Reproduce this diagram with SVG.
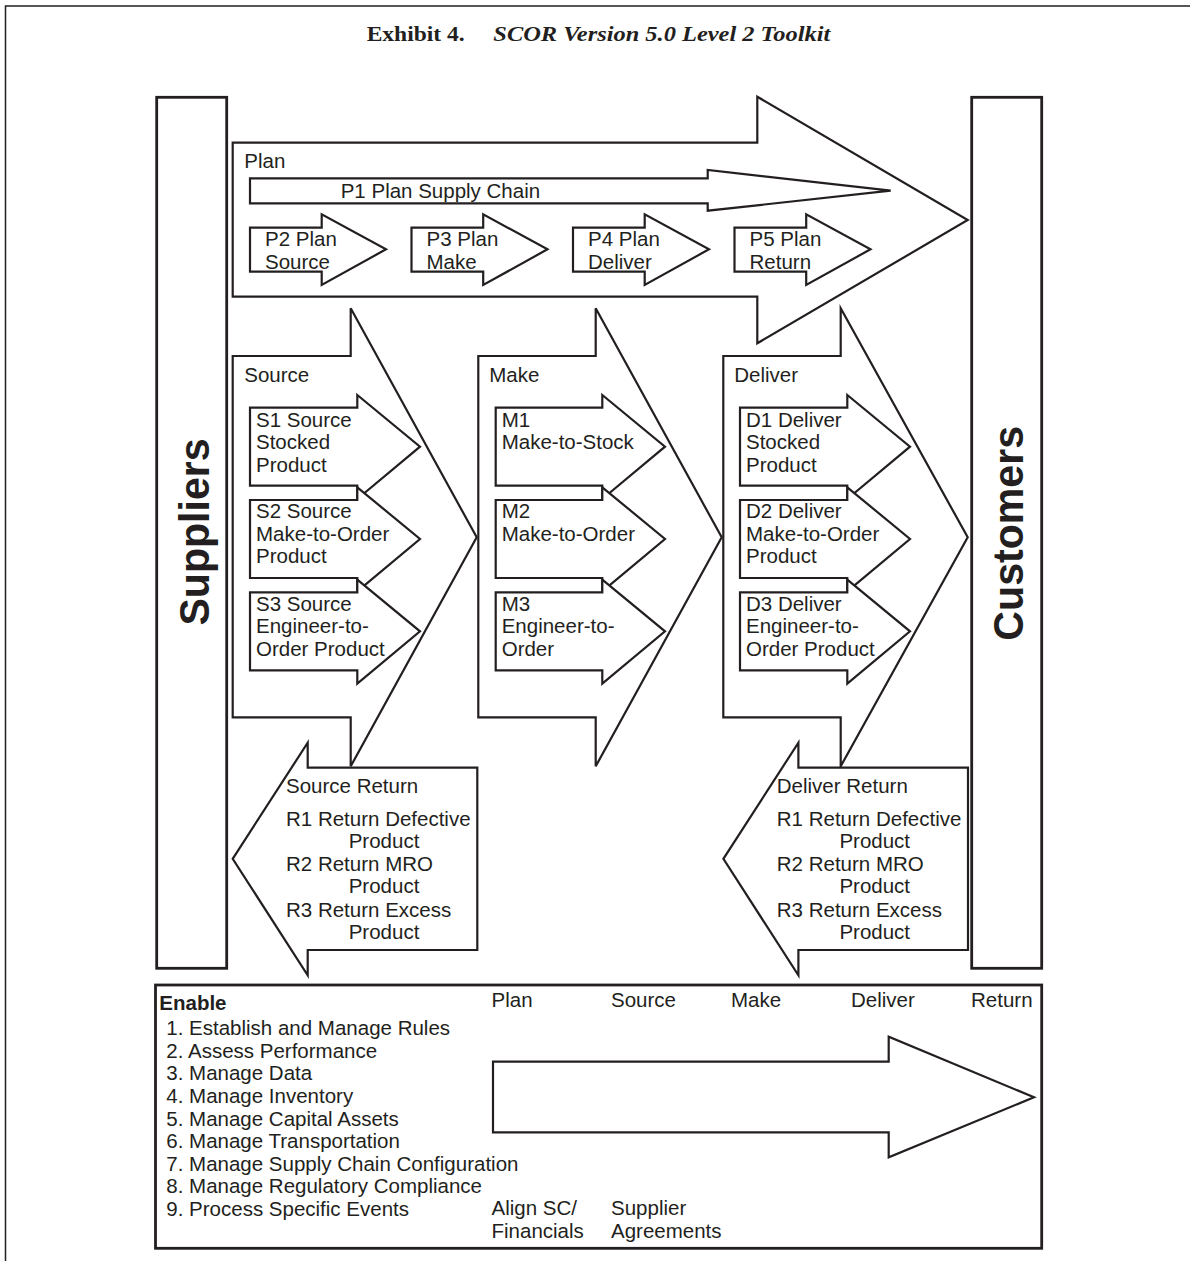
<svg xmlns="http://www.w3.org/2000/svg" width="1190" height="1261" viewBox="0 0 1190 1261">
<style>
  .t { font-family: "Liberation Sans", Arial, Helvetica, sans-serif; font-size: 20.5px; fill: #231f20; }
  .big { font-family: "Liberation Sans", Arial, Helvetica, sans-serif; font-size: 43px; font-weight: bold; fill: #231f20; }
  .title { font-family: "Liberation Serif", "Times New Roman", serif; font-size: 22px; font-weight: bold; fill: #231f20; }
  .ar { fill: #ffffff; stroke: #231f20; stroke-width: 2.2; stroke-linejoin: miter; }
  .box { fill: #ffffff; stroke: #231f20; stroke-width: 2.8; }
  .frame { fill: none; stroke: #231f20; stroke-width: 1.5; }
</style>
<rect width="1190" height="1261" fill="#ffffff"/>
<g id="frame">
  <polyline class="frame" points="5.5,1261 5.5,6 1190,6"/>
</g>
<g id="title">
  <text class="title" x="366.7" y="40.7" textLength="98" lengthAdjust="spacingAndGlyphs">Exhibit 4.</text>
  <text class="title" x="493.3" y="40.7" font-style="italic" textLength="337" lengthAdjust="spacingAndGlyphs">SCOR Version 5.0 Level 2 Toolkit</text>
</g>
<g id="suppliers">
  <rect class="box" x="156.7" y="97.3" width="70" height="871"/>
  <text class="big" transform="translate(208.5,532) rotate(-90)" text-anchor="middle" textLength="187" lengthAdjust="spacingAndGlyphs">Suppliers</text>
</g>
<g id="customers">
  <rect class="box" x="971.7" y="97.3" width="70" height="871"/>
  <text class="big" transform="translate(1023.3,533.3) rotate(-90)" text-anchor="middle" textLength="214.7" lengthAdjust="spacingAndGlyphs">Customers</text>
</g>
<g id="plan">
  <polygon class="ar" points="232.7,142.7 757.3,142.7 757.3,96.7 967.7,220 757.3,343.3 757.3,296.7 232.7,296.7"/>
  <text class="t" x="244.3" y="167.7">Plan</text>
</g>
<g id="p1">
  <polygon class="ar" points="250,178.3 707.7,178.3 707.7,170 890.7,190.7 707.7,210.7 707.7,203.3 250,203.3"/>
  <text class="t" x="340.7" y="198.3">P1 Plan Supply Chain</text>
</g>
<g id="p2">
  <polygon class="ar" points="250,227.7 321.7,227.7 321.7,214.3 386,249.3 321.7,285 321.7,271.7 250,271.7"/>
  <text class="t" x="265" y="246">P2 Plan</text>
  <text class="t" x="265" y="268.7">Source</text>
</g>
<g id="p3">
  <polygon class="ar" points="411.5,227.7 483.2,227.7 483.2,214.3 547.5,249.3 483.2,285 483.2,271.7 411.5,271.7"/>
  <text class="t" x="426.5" y="246">P3 Plan</text>
  <text class="t" x="426.5" y="268.7">Make</text>
</g>
<g id="p4">
  <polygon class="ar" points="573,227.7 644.7,227.7 644.7,214.3 709,249.3 644.7,285 644.7,271.7 573,271.7"/>
  <text class="t" x="588" y="246">P4 Plan</text>
  <text class="t" x="588" y="268.7">Deliver</text>
</g>
<g id="p5">
  <polygon class="ar" points="734.5,227.7 806.2,227.7 806.2,214.3 870.5,249.3 806.2,285 806.2,271.7 734.5,271.7"/>
  <text class="t" x="749.5" y="246">P5 Plan</text>
  <text class="t" x="749.5" y="268.7">Return</text>
</g>
<g id="source">
  <polygon class="ar" points="232.7,356 350.7,356 350.7,308.3 476.7,537.3 350.7,766.3 350.7,717.3 232.7,717.3"/>
  <text class="t" x="244.3" y="381.7">Source</text>
</g>
<g id="s1">
  <polygon class="ar" points="250,407.7 357.3,407.7 357.3,395 420,446.7 357.3,499 357.3,485.7 250,485.7"/>
  <text class="t" x="256" y="426.7">S1 Source</text>
  <text class="t" x="256" y="449">Stocked</text>
  <text class="t" x="256" y="471.7">Product</text>
</g>
<g id="s2">
  <polygon class="ar" points="250,500 357.3,500 357.3,487.3 420,539 357.3,591.3 357.3,578 250,578"/>
  <text class="t" x="256" y="518.3">S2 Source</text>
  <text class="t" x="256" y="540.7">Make-to-Order</text>
  <text class="t" x="256" y="563.3">Product</text>
</g>
<g id="s3">
  <polygon class="ar" points="250,592.3 357.3,592.3 357.3,579.6 420,631.3 357.3,683.6 357.3,670.3 250,670.3"/>
  <text class="t" x="256" y="610.7">S3 Source</text>
  <text class="t" x="256" y="633">Engineer-to-</text>
  <text class="t" x="256" y="655.7">Order Product</text>
</g>
<g id="make">
  <polygon class="ar" points="478.3,356 595.7,356 595.7,308.3 721.7,537.3 595.7,766.3 595.7,717.3 478.3,717.3"/>
  <text class="t" x="489.3" y="381.7">Make</text>
</g>
<g id="m1">
  <polygon class="ar" points="495.7,407.7 602.3,407.7 602.3,395 665,446.7 602.3,499 602.3,485.7 495.7,485.7"/>
  <text class="t" x="501.7" y="426.7">M1</text>
  <text class="t" x="501.7" y="449">Make-to-Stock</text>
</g>
<g id="m2">
  <polygon class="ar" points="495.7,500 602.3,500 602.3,487.3 665,539 602.3,591.3 602.3,578 495.7,578"/>
  <text class="t" x="501.7" y="518.3">M2</text>
  <text class="t" x="501.7" y="540.7">Make-to-Order</text>
</g>
<g id="m3">
  <polygon class="ar" points="495.7,592.3 602.3,592.3 602.3,579.6 665,631.3 602.3,683.6 602.3,670.3 495.7,670.3"/>
  <text class="t" x="501.7" y="610.7">M3</text>
  <text class="t" x="501.7" y="633">Engineer-to-</text>
  <text class="t" x="501.7" y="655.7">Order</text>
</g>
<g id="deliver">
  <polygon class="ar" points="723.3,356 840.7,356 840.7,308.3 967.7,537.3 840.7,766.3 840.7,717.3 723.3,717.3"/>
  <text class="t" x="734.3" y="381.7">Deliver</text>
</g>
<g id="d1">
  <polygon class="ar" points="740,407.7 847.3,407.7 847.3,395 910,446.7 847.3,499 847.3,485.7 740,485.7"/>
  <text class="t" x="746" y="426.7">D1 Deliver</text>
  <text class="t" x="746" y="449">Stocked</text>
  <text class="t" x="746" y="471.7">Product</text>
</g>
<g id="d2">
  <polygon class="ar" points="740,500 847.3,500 847.3,487.3 910,539 847.3,591.3 847.3,578 740,578"/>
  <text class="t" x="746" y="518.3">D2 Deliver</text>
  <text class="t" x="746" y="540.7">Make-to-Order</text>
  <text class="t" x="746" y="563.3">Product</text>
</g>
<g id="d3">
  <polygon class="ar" points="740,592.3 847.3,592.3 847.3,579.6 910,631.3 847.3,683.6 847.3,670.3 740,670.3"/>
  <text class="t" x="746" y="610.7">D3 Deliver</text>
  <text class="t" x="746" y="633">Engineer-to-</text>
  <text class="t" x="746" y="655.7">Order Product</text>
</g>
<g id="source-return">
  <polygon class="ar" points="477.3,767.7 307.7,767.7 307.7,742.7 232.7,858.8 307.7,975.3 307.7,950 477.3,950"/>
  <text class="t" x="286" y="792.7">Source Return</text>
  <text class="t" x="286" y="826">R1 Return Defective</text>
  <text class="t" x="348.7" y="848.3">Product</text>
  <text class="t" x="286" y="871">R2 Return MRO</text>
  <text class="t" x="348.7" y="893.3">Product</text>
  <text class="t" x="286" y="916.7">R3 Return Excess</text>
  <text class="t" x="348.7" y="939">Product</text>
</g>
<g id="deliver-return">
  <polygon class="ar" points="968,767.7 798.4,767.7 798.4,742.7 723.4,858.8 798.4,975.3 798.4,950 968,950"/>
  <text class="t" x="776.8" y="792.7">Deliver Return</text>
  <text class="t" x="776.8" y="826">R1 Return Defective</text>
  <text class="t" x="839.4" y="848.3">Product</text>
  <text class="t" x="776.8" y="871">R2 Return MRO</text>
  <text class="t" x="839.4" y="893.3">Product</text>
  <text class="t" x="776.8" y="916.7">R3 Return Excess</text>
  <text class="t" x="839.4" y="939">Product</text>
</g>
<g id="enable">
  <rect class="box" x="155.5" y="985" width="886.2" height="263.3"/>
  <text class="t" x="159.3" y="1010" font-weight="bold" font-size="23px">Enable</text>
  <text class="t" x="166.3" y="1035">1. Establish and Manage Rules</text>
  <text class="t" x="166.3" y="1057.7">2. Assess Performance</text>
  <text class="t" x="166.3" y="1080.3">3. Manage Data</text>
  <text class="t" x="166.3" y="1103.3">4. Manage Inventory</text>
  <text class="t" x="166.3" y="1125.7">5. Manage Capital Assets</text>
  <text class="t" x="166.3" y="1148.3">6. Manage Transportation</text>
  <text class="t" x="166.3" y="1171">7. Manage Supply Chain Configuration</text>
  <text class="t" x="166.3" y="1193.3">8. Manage Regulatory Compliance</text>
  <text class="t" x="166.3" y="1216">9. Process Specific Events</text>
  <text class="t" x="491.5" y="1006.7">Plan</text>
  <text class="t" x="611" y="1006.7">Source</text>
  <text class="t" x="731" y="1006.7">Make</text>
  <text class="t" x="851" y="1006.7">Deliver</text>
  <text class="t" x="971" y="1006.7">Return</text>
  <text class="t" x="491.5" y="1215">Align SC/</text>
  <text class="t" x="491.5" y="1237.7">Financials</text>
  <text class="t" x="611" y="1215">Supplier</text>
  <text class="t" x="611" y="1237.7">Agreements</text>
</g>
<g id="enable-arrow">
  <polygon class="ar" points="493,1061.7 888.7,1061.7 888.7,1036.7 1034,1097.3 888.7,1157.3 888.7,1132.3 493,1132.3"/>
</g>
</svg>
